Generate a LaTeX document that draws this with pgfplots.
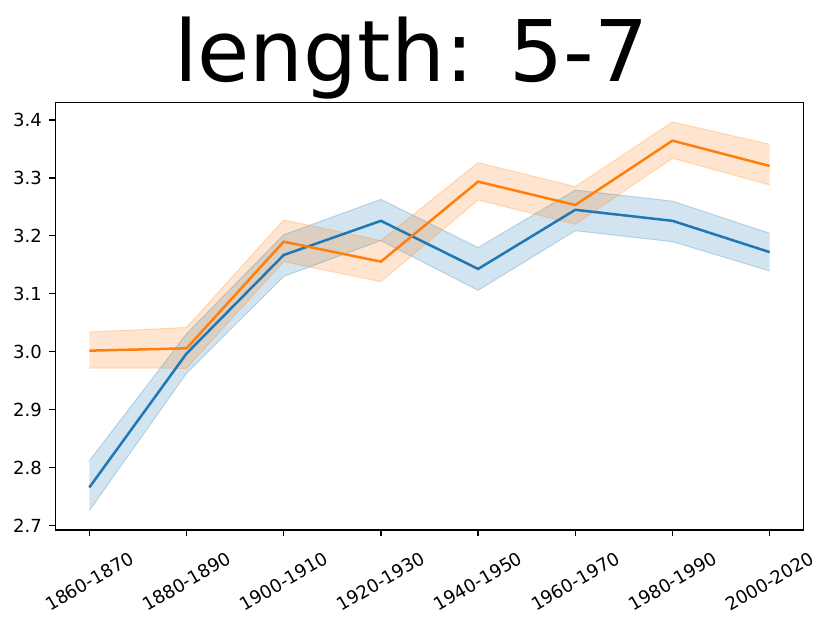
\documentclass[border=0pt]{standalone}
\usepackage{pgfplots}
\usepackage{pgfplotstable}
\pgfplotsset{compat=1.18}
\usepgfplotslibrary{fillbetween}
\usepackage{fontspec}
\setmainfont{DejaVu Sans}
\definecolor{c0}{HTML}{1F77B4}
\definecolor{c1}{HTML}{FF7F0E}
\pgfplotstableread{
x mean upper lower
0 2.766 2.812 2.726
1 2.997 3.031 2.963
2 3.167 3.202 3.130
3 3.226 3.263 3.192
4 3.143 3.180 3.106
5 3.245 3.279 3.209
6 3.226 3.260 3.190
7 3.172 3.2045 3.1395
}\blue
\pgfplotstableread{
x mean upper lower
0 3.002 3.034 2.972
1 3.006 3.042 2.9716
2 3.190 3.2275 3.1556
3 3.1556 3.192 3.121
4 3.2936 3.3264 3.262
5 3.2533 3.285 3.220
6 3.3643 3.3966 3.334
7 3.3206 3.358 3.288
}\orange
\begin{document}
\begin{tikzpicture}
\begin{axis}[
  at={(0,0)}, anchor=south west,
  scale only axis, width=748.4pt, height=427.7pt,
  xmin=-0.35, xmax=7.35, ymin=2.6926, ymax=3.4305,
  xtick={0,1,2,3,4,5,6,7},
  xticklabels={1860-1870,1880-1890,1900-1910,1920-1930,1940-1950,1960-1970,1980-1990,2000-2020},
  ytick={2.7,2.8,2.9,3.0,3.1,3.2,3.3,3.4},
  /pgf/number format/fixed, /pgf/number format/fixed zerofill, /pgf/number format/precision=1,
  /pgf/number format/assume math mode=true,
  tick label style={font=\fontsize{18}{21}\selectfont},
  xticklabel style={yshift=-45pt, rotate=30, anchor=center},
  yticklabel style={anchor=east, xshift=-7pt, inner sep=0pt},
  tick align=outside, major tick length=6.3pt,
  xtick pos=bottom, ytick pos=left,
  axis line style={line width=1.2pt},
  every tick/.style={black, line width=1.2pt},
  clip=false,
]
\addplot[name path=bu, draw=c0, draw opacity=0.25, line width=1pt] table[x=x,y=upper]{\blue};
\addplot[name path=bl, draw=c0, draw opacity=0.25, line width=1pt] table[x=x,y=lower]{\blue};
\addplot[c0, fill opacity=0.2] fill between[of=bu and bl];
\addplot[name path=ou, draw=c1, draw opacity=0.25, line width=1pt] table[x=x,y=upper]{\orange};
\addplot[name path=ol, draw=c1, draw opacity=0.25, line width=1pt] table[x=x,y=lower]{\orange};
\addplot[c1, fill opacity=0.2] fill between[of=ou and ol];
\addplot[c0, line width=2.5pt] table[x=x,y=mean]{\blue};
\addplot[c1, line width=2.5pt] table[x=x,y=mean]{\orange};
\end{axis}
\node[anchor=base, font=\fontsize{85}{100}\selectfont, inner sep=0pt] at (356pt,448pt) {length: 5-7};
\pgfresetboundingbox
\useasboundingbox (-55.3pt,-92pt) rectangle (775.7pt,530pt);
\end{tikzpicture}
\end{document}
